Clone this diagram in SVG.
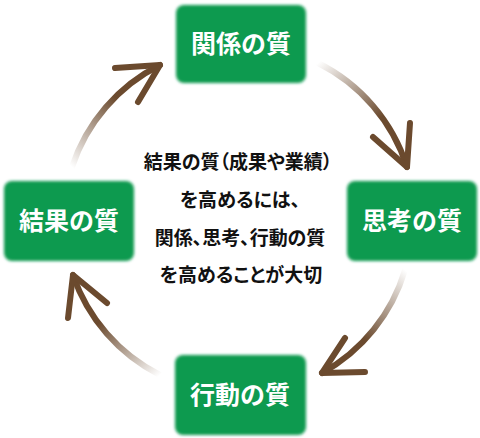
<svg xmlns="http://www.w3.org/2000/svg" width="480" height="438" viewBox="0 0 480 438">
<style>
.box{fill:#0e9a4f;filter:url(#soft)}
.bt{fill:#fff;font-family:"Noto Sans CJK JP","Noto Sans",sans-serif;font-size:25px;font-weight:bold;text-anchor:middle}
.ct{fill:#111;font-family:"Noto Sans CJK JP","Noto Sans",sans-serif;font-size:19px;font-weight:bold;text-anchor:middle;font-feature-settings:"palt"}
.arc{fill:none;stroke-width:6;stroke-linecap:round}
.head{fill:none;stroke:#6b4a2e;stroke-width:6;stroke-linecap:round;stroke-linejoin:round}
</style>
<defs>
<filter id="soft" x="-10%" y="-10%" width="120%" height="120%"><feGaussianBlur stdDeviation="1.5"/></filter>
<linearGradient id="g1" gradientUnits="userSpaceOnUse" x1="318" y1="63" x2="407" y2="167"><stop offset="0" stop-color="#6b4a2e" stop-opacity="0"/><stop offset="0.6" stop-color="#6b4a2e"/></linearGradient>
<linearGradient id="g2" gradientUnits="userSpaceOnUse" x1="405" y1="270" x2="322" y2="373"><stop offset="0" stop-color="#6b4a2e" stop-opacity="0"/><stop offset="0.6" stop-color="#6b4a2e"/></linearGradient>
<linearGradient id="g3" gradientUnits="userSpaceOnUse" x1="160" y1="375" x2="73" y2="275"><stop offset="0" stop-color="#6b4a2e" stop-opacity="0"/><stop offset="0.6" stop-color="#6b4a2e"/></linearGradient>
<linearGradient id="g4" gradientUnits="userSpaceOnUse" x1="72" y1="167" x2="160" y2="65"><stop offset="0" stop-color="#6b4a2e" stop-opacity="0"/><stop offset="0.6" stop-color="#6b4a2e"/></linearGradient>
</defs>
<rect width="480" height="438" fill="#fff"/>
<g id="connectors">
<path class="arc" stroke="url(#g1)" d="M318,63 A175,175 0 0 1 407,167"/>
<polyline class="head" points="373,137 407,167 410,123"/>
<path class="arc" stroke="url(#g2)" d="M405,270 A175,175 0 0 1 322,373"/>
<polyline class="head" points="345,338 322,373 365,372"/>
<path class="arc" stroke="url(#g3)" d="M160,375 A175,175 0 0 1 73,275"/>
<polyline class="head" points="107,303 73,275 68,318"/>
<path class="arc" stroke="url(#g4)" d="M72,167 A175,175 0 0 1 160,65"/>
<polyline class="head" points="115,68 160,65 138,102"/>
</g>
<g id="relation">
<rect class="box" x="176" y="5" width="130" height="78" rx="8"/>
<text class="bt" x="241" y="53">関係の質</text>
</g>
<g id="thinking">
<rect class="box" x="347" y="181" width="130" height="80" rx="8"/>
<text class="bt" x="412" y="230">思考の質</text>
</g>
<g id="action">
<rect class="box" x="175" y="355" width="131" height="80" rx="8"/>
<text class="bt" x="240" y="404">行動の質</text>
</g>
<g id="result">
<rect class="box" x="4" y="181" width="130" height="80" rx="8"/>
<text class="bt" x="69" y="230">結果の質</text>
</g>
<g id="center-text">
<text class="ct" x="238" y="169">結果の質（成果や業績）</text>
<text class="ct" x="240" y="207">を高めるには、</text>
<text class="ct" x="240" y="245">関係、思考、行動の質</text>
<text class="ct" x="241" y="282">を高めることが大切</text>
</g>
</svg>
